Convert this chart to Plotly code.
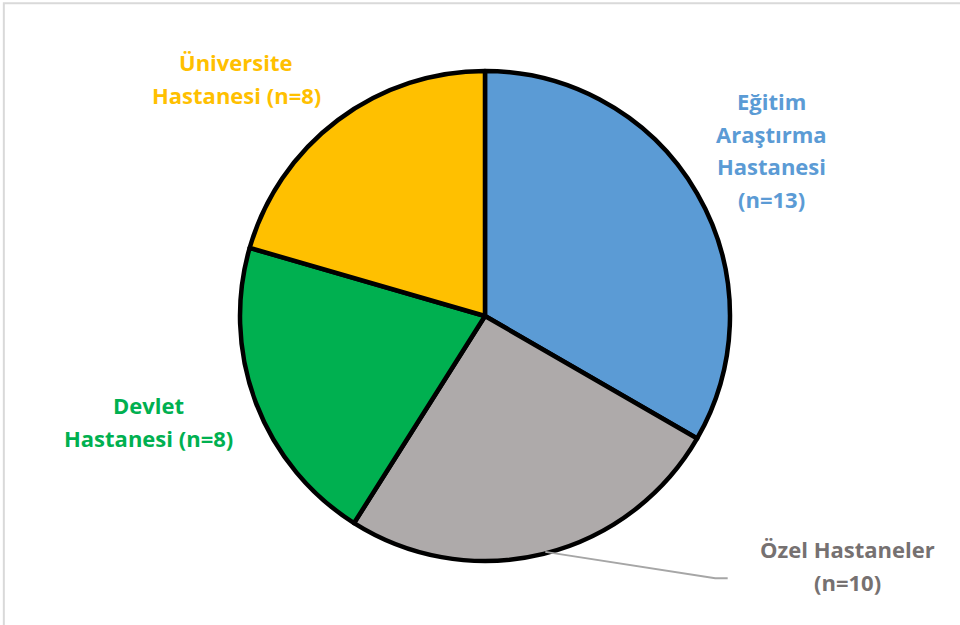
import plotly.graph_objects as go

labels = ["Eğitim Araştırma Hastanesi", "Özel Hastaneler", "Devlet Hastanesi", "Üniversite Hastanesi"]
counts = [13, 10, 8, 8]
colors = ["#5B9BD5", "#AEAAAA", "#00B050", "#FFC000"]
text_colors = ["#5B9BD5", "#767171", "#00B050", "#FFC000"]

# label lines shown outside the pie, with n from counts
label_lines = [
    ["Eğitim", "Araştırma", "Hastanesi", "(n=%d)" % counts[0]],
    ["Özel Hastaneler", "(n=%d)" % counts[1]],
    ["Devlet", "Hastanesi (n=%d)" % counts[2]],
    ["Üniversite", "Hastanesi (n=%d)" % counts[3]],
]
label_pos = [(0.804, 0.76), (0.883, 0.096), (0.155, 0.326), (0.246, 0.875)]
line_gap = 33 / 625

fig = go.Figure(go.Pie(
    labels=labels, values=counts,
    sort=False, direction="clockwise", rotation=0,
    marker=dict(colors=colors, line=dict(color="black", width=4.5)),
    textinfo="none",
    domain=dict(x=[0.2500, 0.7604], y=[0.1024, 0.8864]),
    showlegend=False,
))

for lines, col, (x, y) in zip(label_lines, text_colors, label_pos):
    n = len(lines)
    for i, txt in enumerate(lines):
        fig.add_annotation(
            x=x, y=y + ((n - 1) / 2 - i) * line_gap,
            xref="paper", yref="paper", text=txt, showarrow=False,
            font=dict(family="Open Sans", size=22, color=col, weight="bold"),
            xanchor="center", yanchor="middle",
        )

# leader line for Özel Hastaneler
fig.add_shape(type="path", xref="paper", yref="paper",
              path="M 0.568 0.117 L 0.745 0.075 L 0.758 0.075",
              line=dict(color="#A6A6A6", width=2))

# outer frame
fig.add_shape(type="rect", xref="paper", yref="paper",
              x0=0.004, y0=-0.01, x1=1.01, y1=0.995,
              line=dict(color="#D9D9D9", width=2))

fig.update_layout(
    width=960, height=625,
    margin=dict(l=0, r=0, t=0, b=0),
    paper_bgcolor="white", plot_bgcolor="white",
)

fig.write_html("out.html", config={"displayModeBar": False},
               post_script="document.body.style.margin='0';")
